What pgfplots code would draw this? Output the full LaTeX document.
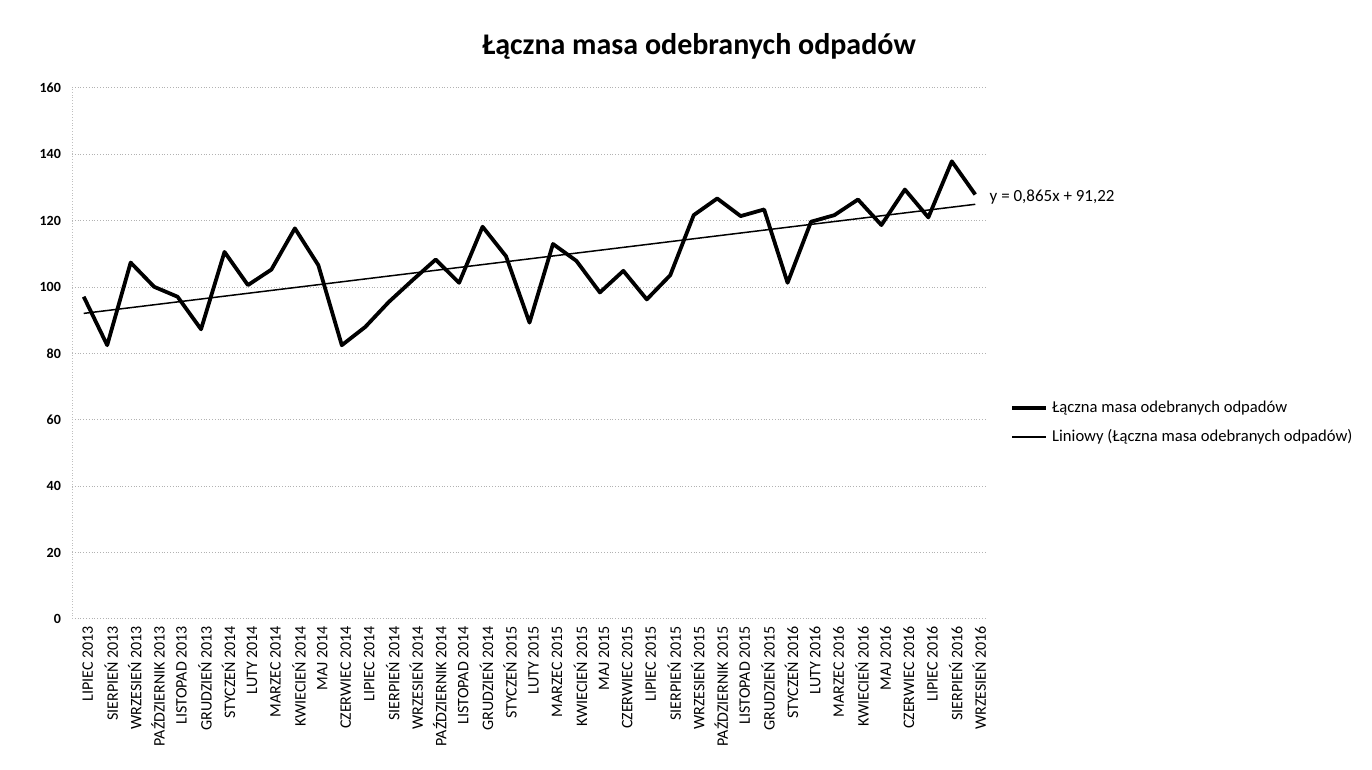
\documentclass[border=0pt]{standalone}
\usepackage{pgfplots}
\pgfplotsset{compat=1.18}
\usepackage{fontspec}
\setmainfont{Carlito}
\begin{document}
\begin{tikzpicture}
\path[use as bounding box] (0,0) rectangle (686pt,385pt);
\node[font=\bfseries\fontsize{15}{17}\selectfont] at (349.5pt,362pt) {Łączna masa odebranych odpadów};
\begin{axis}[
  at={(36pt,75.5pt)}, anchor=south west,
  scale only axis, width=457.5pt, height=265.5pt,
  xmin=0.5, xmax=39.5, ymin=0, ymax=160,
  ytick={0,20,...,160},
  xtick={1,...,39},
  xticklabels={LIPIEC 2013,SIERPIEŃ 2013,WRZESIEŃ 2013,PAŹDZIERNIK 2013,LISTOPAD 2013,GRUDZIEŃ 2013,STYCZEŃ 2014,LUTY 2014,MARZEC 2014,KWIECIEŃ 2014,MAJ 2014,CZERWIEC 2014,LIPIEC 2014,SIERPIEŃ 2014,WRZESIEŃ 2014,PAŹDZIERNIK 2014,LISTOPAD 2014,GRUDZIEŃ 2014,STYCZEŃ 2015,LUTY 2015,MARZEC 2015,KWIECIEŃ 2015,MAJ 2015,CZERWIEC 2015,LIPIEC 2015,SIERPIEŃ 2015,WRZESIEŃ 2015,PAŹDZIERNIK 2015,LISTOPAD 2015,GRUDZIEŃ 2015,STYCZEŃ 2016,LUTY 2016,MARZEC 2016,KWIECIEŃ 2016,MAJ 2016,CZERWIEC 2016,LIPIEC 2016,SIERPIEŃ 2016,WRZESIEŃ 2016},
  x tick label style={rotate=90, anchor=east, font=\fontsize{8}{9}\selectfont, yshift=-2pt},
  y tick label style={font=\bfseries\fontsize{7}{8}\selectfont, xshift=-2pt},
  /pgf/number format/assume math mode=true,
  major tick length=0pt,
  ymajorgrids, grid style={gray!60, densely dotted, line width=0.5pt},
  axis x line*=bottom, x axis line style={draw=none},
  axis y line*=left, y axis line style={gray!50, densely dotted},
  clip=false,
  legend style={at={(1.025,0.37)}, anchor=west, draw=none, fill=none,
    font=\fontsize{8.3}{9.5}\selectfont, row sep=3pt, inner sep=0pt},
  legend cell align=left,
]
\addplot[black, line width=1.9pt, line join=round] coordinates {
(1,97.1) (2,82.5) (3,107.4) (4,100.1) (5,97.1) (6,87.3) (7,110.6) (8,100.6) (9,105.3) (10,117.7)
(11,106.6) (12,82.5) (13,88.0) (14,95.5) (15,102.0) (16,108.3) (17,101.3) (18,118.2) (19,109.3) (20,89.3)
(21,113.0) (22,107.9) (23,98.4) (24,104.9) (25,96.3) (26,103.6) (27,121.7) (28,126.7) (29,121.4) (30,123.4)
(31,101.3) (32,119.7) (33,121.7) (34,126.4) (35,118.7) (36,129.4) (37,121.0) (38,137.9) (39,127.9)
};
\addlegendentry{Łączna masa odebranych odpadów}
\addplot[black, line width=0.75pt] coordinates {(1,92.085) (39,124.955)};
\addlegendentry{Liniowy (Łączna masa odebranych odpadów)}
\node[anchor=west, font=\fontsize{8.5}{10}\selectfont, inner sep=0pt] at (axis cs:39.6,127.1) {y = 0,865x + 91,22};
\end{axis}
\end{tikzpicture}
\end{document}
